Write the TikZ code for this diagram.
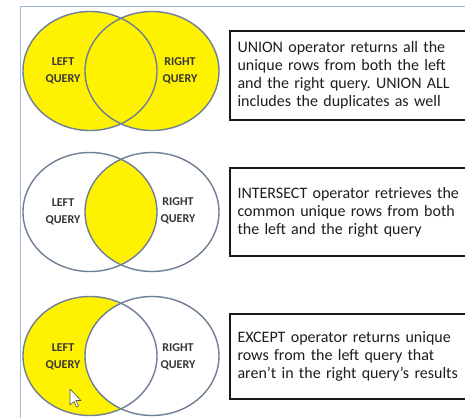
\documentclass[tikz,border=0pt]{standalone}
\usepackage{fontspec}
\setmainfont{Carlito}
\newfontfamily\notefont{Carlito}[WordSpace=0.8]
\usepackage{xcolor}
\definecolor{setyellow}{HTML}{FFF200}
\definecolor{setline}{HTML}{6E7F96}
\definecolor{framecol}{HTML}{A3B6D2}
\definecolor{inkgray}{HTML}{1E1E1E}
\frenchspacing

\begin{document}
\begin{tikzpicture}[x=1pt,y=-1pt,
  set/.style={draw=setline,line width=1.4pt},
  lbl/.style={font=\fontsize{12}{16.8}\selectfont\bfseries,text=inkgray!90,align=center,inner sep=0pt},
  note/.style={draw=black!90,line width=2pt,anchor=north west,align=left,text=inkgray,
    font=\notefont\fontsize{16}{18}\selectfont,inner xsep=7.5pt,text width=240pt}]
\useasboundingbox (0,0) rectangle (465,418);
\fill[white] (0,0) rectangle (465,418);
% slide frame
\draw[framecol,line width=0.9pt] (465,6) -- (20,6) -- (20,418);

% union
\fill[setyellow] (90,71) ellipse [x radius=67pt,y radius=59.5pt];
\fill[setyellow] (152,71) ellipse [x radius=67pt,y radius=59.5pt];
\draw[set] (90,71) ellipse [x radius=67pt,y radius=59.5pt];
\draw[set] (152,71) ellipse [x radius=67pt,y radius=59.5pt];
\node[lbl] (l1) at (63,71) {LEFT\\QUERY};
\node[lbl] (r1) at (180,71) {RIGHT\\QUERY};
\node[note,minimum height=89pt] (n1) at (229,29.5)
  {UNION operator returns all the\\unique rows from both the left\\and the right query. UNION ALL\\includes the duplicates as well};

% intersect
\begin{scope}
  \clip (90,212) ellipse [x radius=67pt,y radius=59.5pt];
  \fill[setyellow] (152,212) ellipse [x radius=67pt,y radius=59.5pt];
\end{scope}
\draw[set] (90,212) ellipse [x radius=67pt,y radius=59.5pt];
\draw[set] (152,212) ellipse [x radius=67pt,y radius=59.5pt];
\node[lbl] (l2) at (63,211.5) {LEFT\\QUERY};
\node[lbl] (r2) at (178,211) {RIGHT\\QUERY};
\node[note,minimum height=88pt] (n2) at (229,167)
  {INTERSECT operator retrieves the\\common unique rows from both\\the left and the right query};

% except
\fill[setyellow] (90,356) ellipse [x radius=67pt,y radius=59.5pt];
\begin{scope}
  \clip (90,356) ellipse [x radius=67pt,y radius=59.5pt];
  \fill[white] (152,356) ellipse [x radius=67pt,y radius=59.5pt];
\end{scope}
\draw[set] (90,356) ellipse [x radius=67pt,y radius=59.5pt];
\draw[set] (152,356) ellipse [x radius=67pt,y radius=59.5pt];
\node[lbl] (l3) at (63,356.5) {LEFT\\QUERY};
\node[lbl] (r3) at (178,356.5) {RIGHT\\QUERY};
\node[note,minimum height=85pt] (n3) at (229,313)
  {EXCEPT operator returns unique\\rows from the left query that\\aren’t in the right query’s results};

% pointer
\draw[gray!70!black,fill=white,line width=0.6pt,line join=round]
  (70,389) -- (70,405) -- (74,401.5) -- (76.5,407) -- (78.5,406) -- (76,400.5) -- (81,400.5) -- cycle;
\end{tikzpicture}
\end{document}
